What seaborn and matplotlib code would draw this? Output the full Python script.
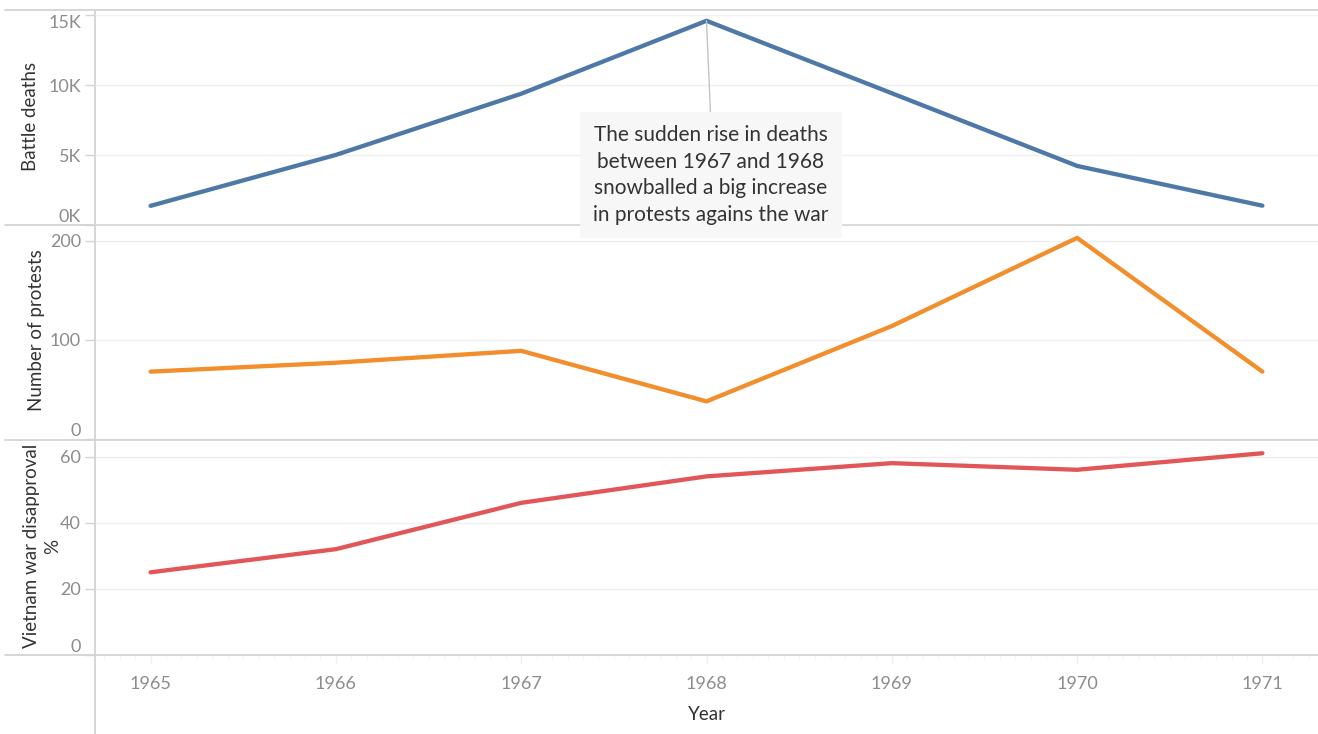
import numpy as np
import pandas as pd
import matplotlib
matplotlib.use("Agg")
import matplotlib.pyplot as plt
from matplotlib.lines import Line2D
from matplotlib.ticker import FuncFormatter, MultipleLocator
import seaborn as sns

# data
years = [1965, 1966, 1967, 1968, 1969, 1970, 1971]
battle_deaths = [1369, 5008, 9378, 14589, 9414, 4221, 1380]
protests = [68, 77, 89, 38, 114, 203, 68]
disapproval = [25, 32, 46, 54, 58, 56, 61]

df = pd.DataFrame({
    "Year": years,
    "Battle deaths": battle_deaths,
    "Number of protests": protests,
    "Vietnam war disapproval %": disapproval,
})

sns.set_theme(style="white")
plt.rcParams["font.family"] = ["Lato", "DejaVu Sans"]

W, H = 1318, 734
fig = plt.figure(figsize=(W / 100, H / 100), dpi=100)

tick_col = "#8c8c8c"
grid_col = "#efefef"
line_col = "#d3d3d3"
text_col = "#333333"

# panel edges in pixels (top, bottom)
panels = [
    ("Battle deaths", "#4e79a7", 10, 225, (0, 15360), [0, 5000, 10000, 15000]),
    ("Number of protests", "#f28e2b", 225, 440, (-1, 216), [0, 100, 200]),
    ("Vietnam war disapproval %", "#e15759", 440, 655, (0, 65), [0, 20, 40, 60]),
]
left_px = 95

axes = []
for col, color, top, bot, ylim, ticks in panels:
    ax = fig.add_axes([left_px / W, 1 - bot / H, 1 - left_px / W, (bot - top) / H])
    ax.set_facecolor("none")
    sns.lineplot(data=df, x="Year", y=col, color=color, linewidth=3.1,
                 ax=ax, solid_capstyle="round")
    ax.set_xlim(1964.7, 1971.3)
    ax.set_ylim(*ylim)
    ax.set_yticks(ticks)
    for t in ticks:
        ax.axhline(t, color=grid_col, lw=1, zorder=0)
    ax.set_xlabel("")
    ax.set_ylabel("")
    for s in ax.spines.values():
        s.set_visible(False)
    ax.tick_params(axis="y", colors=line_col, labelcolor=tick_col, labelsize=13,
                   length=7, width=1, pad=3, left=True)
    ax.set_xticks(years)
    ax.tick_params(axis="x", bottom=False, labelbottom=False)
    axes.append(ax)

# top panel drawn last so its note box sits over the panel below
axes[0].set_zorder(5)
axes[0].yaxis.set_major_formatter(FuncFormatter(lambda v, p: f"{int(v / 1000)}K"))

# lowest label sits above its tick like in the reference, top one below
fig.canvas.draw()
for ax in axes:
    ax.get_yticklabels()[0].set_verticalalignment("bottom")
axes[0].get_yticklabels()[-1].set_verticalalignment("top")

# x axis on the bottom panel
ax = axes[-1]
ax.xaxis.set_minor_locator(MultipleLocator(1 / 12))
ax.tick_params(axis="x", which="major", bottom=True, labelbottom=True, length=6,
               width=1, colors=grid_col, labelcolor=tick_col, labelsize=13, pad=9)
ax.tick_params(axis="x", which="minor", bottom=True, length=3, width=0.7,
               colors="#f2f2f2")
ax.set_xlabel("Year", fontsize=13.5, color=text_col, labelpad=10)

# axis titles
fig.text(30 / W, 1 - 116 / H, "Battle deaths", rotation=90, ha="center",
         va="center", fontsize=13.5, color=text_col)
fig.text(37 / W, 1 - 330 / H, "Number of protests", rotation=90, ha="center",
         va="center", fontsize=13.5, color=text_col)
fig.text(42 / W, 1 - 546 / H, "Vietnam war disapproval\n%", rotation=90,
         ha="center", va="center", fontsize=13.5, color=text_col,
         multialignment="center", linespacing=1.3)

# separators
for y in [10, 225, 440, 655]:
    fig.add_artist(Line2D([5 / W, 1], [1 - y / H, 1 - y / H], zorder=1,
                          color=line_col, lw=1.3, transform=fig.transFigure))
fig.add_artist(Line2D([left_px / W, left_px / W], [0, 1 - 10 / H], zorder=1,
                      color=line_col, lw=1.3, transform=fig.transFigure))

# annotation
axes[0].annotate(
    "The sudden rise in deaths\nbetween 1967 and 1968\nsnowballed a big increase\nin protests agains the war",
    xy=(1968, battle_deaths[3]), xytext=(711 / W, 1 - 175 / H),
    textcoords="figure fraction", ha="center", va="center",
    fontsize=15, color=text_col, linespacing=1.42,
    bbox=dict(boxstyle="square,pad=0.62", fc="#f7f7f7", ec="none"),
    arrowprops=dict(arrowstyle="-", color="#c4c4c4", lw=1, shrinkA=0,
                    shrinkB=0, relpos=(0.5, 1)),
    annotation_clip=False, zorder=10)

fig.savefig("out.png", dpi=100, facecolor="white")
